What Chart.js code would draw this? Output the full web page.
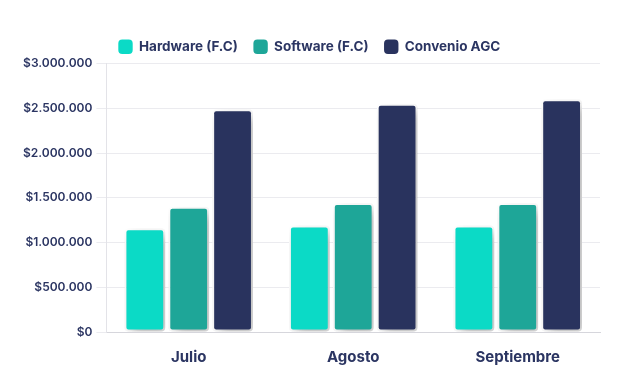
<!DOCTYPE html>
<html>
<head>
<meta charset="utf-8">
<script src="https://cdn.jsdelivr.net/npm/chart.js@4"></script>
<style>
  html, body { margin: 0; padding: 0; background: #fff; }
  #wrap { width: 620px; height: 387px; }
</style>
</head>
<body>
<div id="wrap"><canvas id="bar-chart"></canvas></div>
<script>
// data
let months = ['Julio', 'Agosto', 'Septiembre'];
let hardware = [1160000, 1190000, 1190000];
let software = [1400000, 1440000, 1440000];
let convenio = [2490000, 2550000, 2600000];
let yTicks = [0, 500000, 1000000, 1500000, 2000000, 2500000, 3000000];

let textColor = '#2b3562';

// soft drop shadow behind the bars
let barShadow = {
    id: 'barShadow',
    beforeDatasetsDraw(chart) {
        let ctx = chart.ctx;
        ctx.save();
        ctx.shadowColor = 'rgba(0,0,0,0.28)';
        ctx.shadowBlur = 12;
        ctx.shadowOffsetX = 5;
        ctx.shadowOffsetY = 5;
    },
    afterDatasetsDraw(chart) {
        chart.ctx.restore();
    }
};

function money(v) {
    return '$' + String(v).replace(/\B(?=(\d{3})+(?!\d))/g, '.');
}

new Chart(document.getElementById('bar-chart'), {
    type: 'bar',
    data: {
        labels: months,
        datasets: [{
            label: 'Hardware (F.C)',
            data: hardware,
            backgroundColor: '#0bdac6',
            borderColor: '#ffffff',
            borderWidth: 2,
            borderRadius: 4,
            borderSkipped: false
        }, {
            label: 'Software (F.C)',
            data: software,
            backgroundColor: '#1ea698',
            borderColor: '#ffffff',
            borderWidth: 2,
            borderRadius: 4,
            borderSkipped: false
        }, {
            label: 'Convenio AGC',
            data: convenio,
            backgroundColor: '#29335e',
            borderColor: '#ffffff',
            borderWidth: 2,
            borderRadius: 4,
            borderSkipped: false
        }]
    },
    options: {
        responsive: true,
        maintainAspectRatio: false,
        animation: false,
        layout: { padding: { top: 24, right: 20, left: 19, bottom: 13 } },
        datasets: { bar: { categoryPercentage: 0.8, barPercentage: 0.93 } },
        plugins: {
            legend: {
                position: 'top',
                labels: {
                    usePointStyle: true,
                    pointStyle: 'rectRounded',
                    boxWidth: 14,
                    boxHeight: 14,
                    padding: 16,
                    color: textColor,
                    font: { family: 'Inter', size: 13.5, weight: 'bold' }
                }
            },
            tooltip: { enabled: false }
        },
        scales: {
            x: {
                grid: { display: false },
                border: { color: '#d6d6dc' },
                ticks: {
                    color: textColor,
                    padding: 8,
                    font: { family: 'Inter', size: 15, weight: 'bold' }
                }
            },
            y: {
                min: 0,
                max: 3000000,
                afterBuildTicks(axis) {
                    axis.ticks = yTicks.map(v => ({ value: v }));
                },
                grid: { color: '#ebebef', tickLength: 10 },
                border: { color: '#e3e3e8' },
                ticks: {
                    color: textColor,
                    padding: 4,
                    font: { family: 'Inter', size: 12, weight: '600' },
                    callback: v => money(v)
                }
            }
        }
    },
    plugins: [barShadow]
});
</script>
</body>
</html>
